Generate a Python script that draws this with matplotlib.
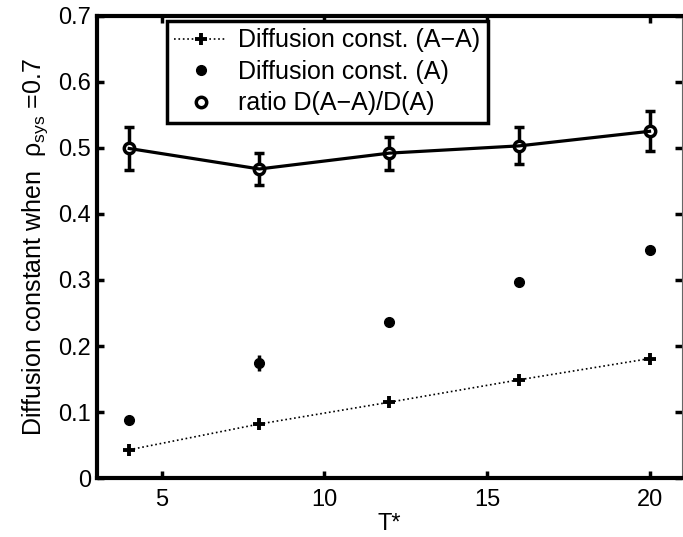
import matplotlib
matplotlib.use("Agg")
import matplotlib.pyplot as plt

plt.rcParams['font.family'] = ['Liberation Sans', 'DejaVu Sans']
plt.rcParams['mathtext.fontset'] = 'custom'
plt.rcParams['mathtext.rm'] = 'Liberation Sans'

# data
temp = [4, 8, 12, 16, 20]
d_aa = [0.043, 0.082, 0.115, 0.149, 0.181]
d_a = [0.088, 0.174, 0.236, 0.297, 0.346]
d_a_err = [0.0, 0.012, 0.0, 0.0, 0.0]
ratio = [0.499, 0.468, 0.492, 0.503, 0.525]
ratio_err = [0.033, 0.024, 0.025, 0.028, 0.030]

fig = plt.figure(figsize=(6.83, 5.37), dpi=100)
ax = fig.add_axes([0.1416, 0.1095, 0.857, 0.8613])

ax.plot(temp, d_aa, linestyle=':', color='black', linewidth=1.2,
        marker='+', markersize=8, markeredgewidth=2.8,
        label='Diffusion const. (A\u2212A)')
ax.errorbar(temp, d_a, yerr=d_a_err, fmt='none', ecolor='black',
            elinewidth=2.5, capsize=0)
ax.plot(temp, d_a, linestyle='none', marker='o', markersize=7,
        color='black', label='Diffusion const. (A)')
ax.errorbar(temp, ratio, yerr=ratio_err, fmt='-', color='black',
            linewidth=2.3, elinewidth=2.5, capsize=3.8, capthick=2.5)
ax.plot(temp, ratio, linestyle='none', marker='o', markersize=7.5,
        markerfacecolor='white', markeredgecolor='black',
        markeredgewidth=2.5, label='ratio D(A\u2212A)/D(A)')

ax.set_xlim(3, 21)
ax.set_ylim(0, 0.7)
ax.set_xticks([5, 10, 15, 20])
ax.set_yticks([0, 0.1, 0.2, 0.3, 0.4, 0.5, 0.6, 0.7])
ax.set_yticklabels(['0', '0.1', '0.2', '0.3', '0.4', '0.5', '0.6', '0.7'])
ax.tick_params(direction='in', length=5, width=2.5, labelsize=17,
               top=True, right=True)
ax.tick_params(axis='x', pad=8)
ax.tick_params(axis='y', pad=4)

for side in ['left', 'bottom', 'top']:
    ax.spines[side].set_linewidth(3)
ax.spines['right'].set_linewidth(0.8)
ax.spines['right'].set_color('0.4')

ax.set_xlabel('T*', fontsize=17, labelpad=1)
ax.set_ylabel('Diffusion constant when  \u03c1$_{\\mathrm{sys}}$ =0.7',
              fontsize=18, labelpad=6)

leg = ax.legend(loc='upper left', bbox_to_anchor=(0.120, 0.9885),
                fontsize=18, fancybox=False, framealpha=1,
                edgecolor='black', handlelength=2.1, handletextpad=0.45,
                borderpad=0.3, labelspacing=0.3, borderaxespad=0)
leg.get_frame().set_linewidth(2.5)

fig.savefig('out.png', dpi=100)
